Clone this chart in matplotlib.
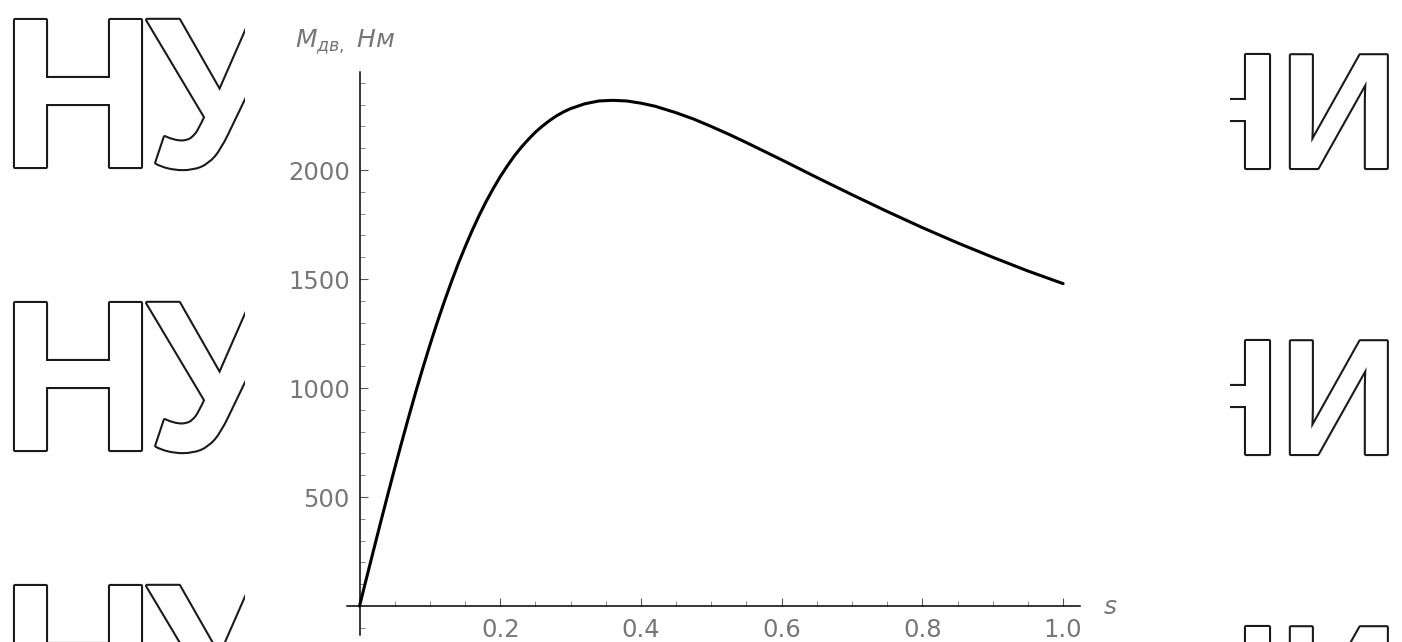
import matplotlib
matplotlib.use("Agg")
import matplotlib.pyplot as plt
import matplotlib.patheffects as pe
from matplotlib.patches import Rectangle

plt.rcParams['font.family'] = ['DejaVu Sans']
plt.rcParams['mathtext.fontset'] = 'dejavusans'

# slip s vs motor torque M (N*m)
s_vals = [0.0, 0.01, 0.02, 0.03, 0.04, 0.05, 0.06, 0.07, 0.08, 0.09, 0.10,
          0.11, 0.12, 0.13, 0.14, 0.15, 0.16, 0.17, 0.18, 0.19, 0.20, 0.21,
          0.22, 0.23, 0.24, 0.25, 0.26, 0.27, 0.28, 0.29, 0.30, 0.32, 0.34,
          0.36, 0.38, 0.40, 0.42, 0.45, 0.475, 0.50, 0.525, 0.55, 0.60, 0.65,
          0.70, 0.75, 0.80, 0.85, 0.90, 0.95, 1.00]
m_vals = [0, 129, 257, 384, 509, 632, 752, 869, 983, 1092, 1197,
          1297, 1392, 1482, 1568, 1647, 1722, 1792, 1856, 1915, 1970, 2019,
          2065, 2105, 2141, 2174, 2202, 2227, 2249, 2267, 2282, 2304, 2317,
          2320, 2317, 2307, 2293, 2263, 2234, 2200, 2164, 2126, 2047, 1966,
          1887, 1810, 1736, 1666, 1600, 1537, 1479]

x_ticks = [0.2, 0.4, 0.6, 0.8, 1.0]
x_labels = ["0.2", "0.4", "0.6", "0.8", "1.0"]
y_ticks = [500, 1000, 1500, 2000]
y_labels = ["500", "1000", "1500", "2000"]
x_minor = [0.05, 0.1, 0.15, 0.25, 0.3, 0.35, 0.45, 0.5, 0.55, 0.65, 0.7, 0.75, 0.85, 0.9, 0.95]
y_minor = [-100, 100, 200, 300, 400, 600, 700, 800, 900, 1100, 1200, 1300, 1400,
           1600, 1700, 1800, 1900, 2100, 2200, 2300, 2400]

W, H = 1402, 642
fig = plt.figure(figsize=(W / 100, H / 100), dpi=100)
fig.patch.set_facecolor('white')

# watermark letters behind the chart picture
outline = [pe.withStroke(linewidth=3, foreground='#1a1a1a')]
wm = dict(fontweight='bold', color='white', path_effects=outline, ha='left',
          va='baseline', zorder=-3, family='Liberation Sans')
for base in [167, 450, 733]:
    fig.text(1 / W, 1 - base / H, "Н", fontsize=154, **wm)
    fig.text(147 / W, 1 - base / H, "У", fontsize=154, **wm)
for base in [168, 454, 740]:
    fig.text(1162 / W, 1 - base / H, "Н", fontsize=118, **wm)
    fig.text(1280 / W, 1 - base / H, "И", fontsize=118, **wm)

fig.patches.append(Rectangle((245 / W, 0), (1230 - 245) / W, 1, transform=fig.transFigure,
                             facecolor='white', edgecolor='none', zorder=-2))

ax = fig.add_axes([347 / W, 7 / H, (1080 - 347) / W, (635 - 72) / H])
ax.set_facecolor('none')
ax.plot(s_vals, m_vals, color='black', lw=2.2, solid_capstyle='round')

ax.set_xlim(-0.0178, 1.024)
ax.set_ylim(-133, 2450)
for side in ['top', 'right']:
    ax.spines[side].set_visible(False)
for side in ['left', 'bottom']:
    ax.spines[side].set_position(('data', 0))
    ax.spines[side].set_linewidth(1.1)

ax.set_xticks(x_ticks)
ax.set_xticklabels(x_labels)
ax.set_yticks(y_ticks)
ax.set_yticklabels(y_labels)
ax.set_xticks(x_minor, minor=True)
ax.set_yticks(y_minor, minor=True)
ax.tick_params(which='major', direction='in', length=5.5, width=0.8, color='#555555',
               labelsize=17.5, labelcolor='#777777')
ax.tick_params(which='minor', direction='in', length=3.5, width=0.7, color='#888888')
ax.tick_params(axis='x', which='major', pad=8.6)
ax.tick_params(axis='y', which='major', pad=7)

fig.text(295 / W, 1 - 47 / H, r'$M_{дв,}\ Нм$', fontsize=18, color='#777777',
         ha='left', va='baseline')
fig.text(1110 / W, 1 - 607 / H, 's', fontsize=18, style='italic', color='#777777',
         ha='center', va='center')

fig.savefig('out.png', dpi=100)
